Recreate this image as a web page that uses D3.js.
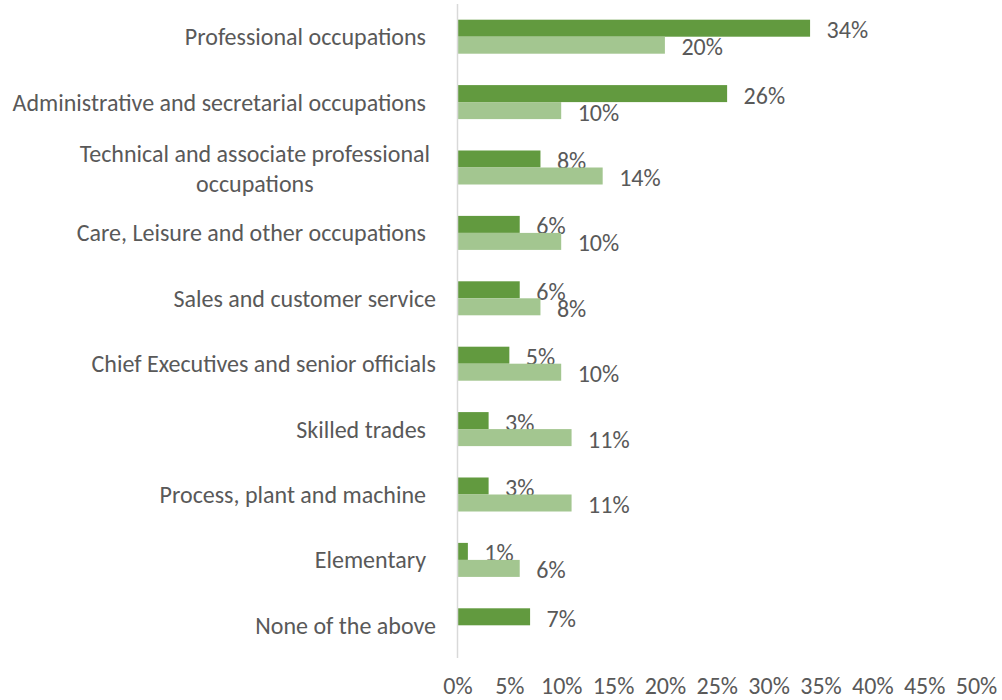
<!DOCTYPE html>
<html>
<head>
<meta charset="utf-8">
<script src="https://cdn.jsdelivr.net/npm/d3@7"></script>
<style>
  html, body { margin: 0; padding: 0; background: #fff; }
  svg { display: block; }
  text { font-family: Carlito, Calibri, "Open Sans", "Liberation Sans", sans-serif; fill: #595959; }
</style>
</head>
<body>
<svg id="chart" width="1002" height="700"></svg>
<script>
// Occupation categories (top to bottom); a trailing space marks labels set slightly further left
const categories = [
  "Professional occupations ",
  "Administrative and secretarial occupations ",
  "Technical and associate professional|occupations",
  "Care, Leisure and other occupations ",
  "Sales and customer service",
  "Chief Executives and senior officials",
  "Skilled trades ",
  "Process, plant and machine ",
  "Elementary ",
  "None of the above"
];
// Two series, percentages
const seriesDark  = [34, 26, 8, 6, 6, 5, 3, 3, 1, 7];
const seriesLight = [20, 10, 14, 10, 8, 10, 11, 11, 6, null];
const xTicks = [0, 5, 10, 15, 20, 25, 30, 35, 40, 45, 50];

const colors = { dark: "#629a3f", light: "#a3c690" };
const fontSize = 24;

const svg = d3.select("#chart");

const x = d3.scaleLinear().domain([0, 50]).range([457.5, 976]);
const y = d3.scaleBand().domain(categories).range([4, 658])
  .paddingInner(0.48).paddingOuter(0.24);
const ySub = d3.scaleBand().domain(["dark", "light"]).range([0, y.bandwidth()]);

// Bars and their value labels
const series = [
  { key: "dark", values: seriesDark },
  { key: "light", values: seriesLight }
];
series.forEach(s => {
  const rows = categories.map((c, i) => ({ c, v: s.values[i] })).filter(d => d.v != null);
  svg.append("g").selectAll("rect").data(rows).join("rect")
    .attr("x", x(0))
    .attr("y", d => y(d.c) + ySub(s.key))
    .attr("width", d => x(d.v) - x(0))
    .attr("height", ySub.bandwidth())
    .attr("fill", colors[s.key]);
  svg.append("g").selectAll("text").data(rows).join("text")
    .attr("x", d => x(d.v) + 16.5)
    .attr("y", d => y(d.c) + ySub(s.key) + ySub.bandwidth() / 2 + 1.5)
    .attr("dominant-baseline", "central")
    .style("font-size", fontSize + "px")
    .text(d => d.v + "%");
});

// Vertical category axis line
svg.append("line")
  .attr("x1", x(0)).attr("x2", x(0))
  .attr("y1", 4).attr("y2", 658)
  .attr("stroke", "#d9d9d9").attr("stroke-width", 1.5);

// Category labels
const labelRight = 436;
const trailingPad = 10;
const catG = svg.append("g");
categories.forEach(c => {
  const lines = c.split("|");
  const cy = y(c) + y.bandwidth() / 2;
  const lh = 30;
  const right = labelRight - (c.endsWith(" ") ? trailingPad : 0);
  const t = catG.append("text")
    .style("font-size", fontSize + "px")
    .attr("dominant-baseline", "central");
  if (lines.length === 1) {
    t.attr("x", right).attr("y", cy).attr("text-anchor", "end").text(c.trim());
  } else {
    const spans = lines.map((ln, i) => t.append("tspan")
      .attr("y", cy + (i - (lines.length - 1) / 2) * lh)
      .text(ln));
    const maxW = d3.max(spans, s => s.node().getComputedTextLength());
    const cx = right - 6 - maxW / 2;
    spans.forEach(s => s.attr("x", cx));
    t.attr("text-anchor", "middle");
  }
});

// Bottom value axis (labels only)
const xAxis = d3.axisBottom(x).tickValues(xTicks).tickFormat(d => d + "%").tickSize(0).tickPadding(0);
const ax = svg.append("g").attr("transform", "translate(0,677)").call(xAxis);
ax.select(".domain").remove();
ax.selectAll("text")
  .style("font-size", fontSize + "px")
  .style("font-family", null)
  .attr("fill", "#595959");
</script>
</body>
</html>
